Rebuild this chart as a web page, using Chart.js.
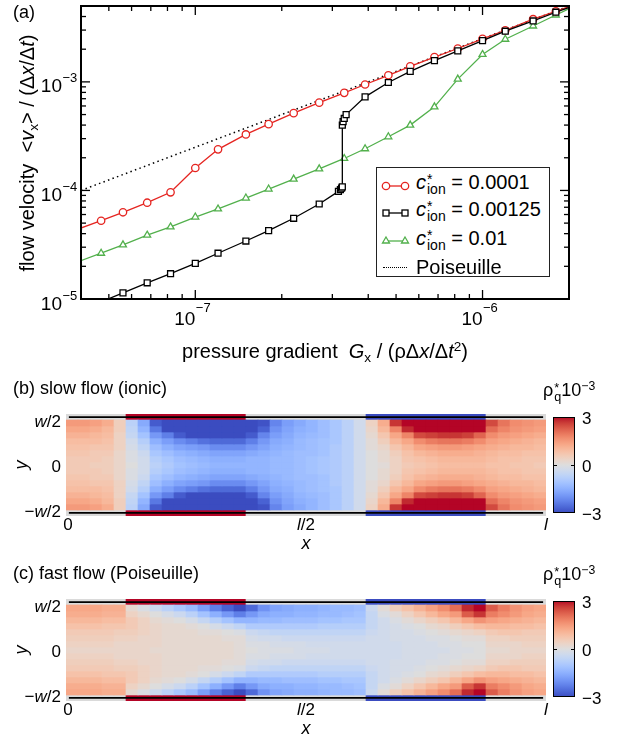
<!DOCTYPE html>
<html lang="en">
<head>
<meta charset="utf-8">
<title>Electro-osmotic channel flow</title>
<script src="https://cdn.jsdelivr.net/npm/chart.js@4.4.1/dist/chart.umd.min.js"></script>
<style>
  html, body { margin: 0; padding: 0; background: #fff; }
  #page { position: relative; width: 639px; height: 739px; overflow: hidden;
          font-family: "Liberation Sans", Arial, Helvetica, sans-serif; color: #000; }
  #page canvas { position: absolute; }
  .lbl { position: absolute; white-space: nowrap; line-height: 1; }
  .sup { font-size: 0.68em; position: relative; top: -0.5em; }
  .sub { font-size: 0.68em; position: relative; top: 0.3em; }
  .stk { display: inline-block; vertical-align: -0.38em; line-height: 0.72; font-size: 0.7em; margin-left: 1px; }
  .stk span { display: block; }
  #legend { position: absolute; left: 376px; top: 167px; width: 174px; height: 110px;
            border: 1.5px solid #222; background: #fff; box-sizing: border-box; }
</style>
</head>
<body>
<div id="page">
  <canvas id="flowChart" width="639" height="310" style="left:0;top:0"></canvas>
  <canvas id="slowChart" width="560" height="130" style="left:0;top:400px"></canvas>
  <canvas id="slowBar" width="24" height="98" style="left:552px;top:416px"></canvas>
  <canvas id="fastChart" width="560" height="130" style="left:0;top:585px"></canvas>
  <canvas id="fastBar" width="24" height="98" style="left:552px;top:600px"></canvas>
  <div id="legend"></div>
</div>
<script>
// ---------------- (a) mean flow velocity vs pressure gradient ----------------
const pressureGradient = [3.9e-8, 4.7e-8, 5.6e-8, 6.8e-8, 8.2e-8, 1.0e-7, 1.2e-7, 1.5e-7, 1.8e-7, 2.2e-7, 2.7e-7,
                          3.3e-7, 3.9e-7, 4.7e-7, 5.6e-7, 6.8e-7, 8.2e-7, 1.0e-6, 1.2e-6, 1.5e-6, 1.8e-6, 2.2e-6];
const velocityLowIon = [4.4e-5, 5.26e-5, 6.29e-5, 7.71e-5, 9.61e-5, 1.61e-4, 2.39e-4, 3.28e-4, 4.08e-4, 5.15e-4, 6.44e-4,
                        7.92e-4, 9.46e-4, 1.15e-3, 1.39e-3, 1.69e-3, 2.03e-3, 2.49e-3, 2.99e-3, 3.78e-3, 4.47e-3, 5.4e-3];
const velocityHighIon = [2.2e-5, 2.64e-5, 3.15e-5, 3.87e-5, 4.61e-5, 5.69e-5, 6.75e-5, 8.51e-5, 1.03e-4, 1.27e-4, 1.58e-4,
                         1.97e-4, 2.42e-4, 3.12e-4, 4.0e-4, 5.89e-4, 1.06e-3, 1.79e-3, 2.47e-3, 3.27e-3, 4.13e-3, 5.3e-3];
// the intermediate concentration was sampled densely around the jump
const pressureGradientMid = [4.7e-8, 5.6e-8, 6.8e-8, 8.2e-8, 1.0e-7, 1.2e-7, 1.5e-7, 1.8e-7, 2.2e-7, 2.7e-7,
                             3.15e-7, 3.2e-7, 3.23e-7, 3.25e-7, 3.25e-7, 3.27e-7, 3.3e-7, 3.35e-7,
                             3.9e-7, 4.7e-7, 5.6e-7, 6.8e-7, 8.2e-7, 1.0e-6, 1.2e-6, 1.5e-6, 1.8e-6, 2.2e-6];
const velocityMidIon = [9.4e-6, 1.14e-5, 1.41e-5, 1.71e-5, 2.13e-5, 2.64e-5, 3.42e-5, 4.26e-5, 5.54e-5, 7.5e-5,
                        9.8e-5, 1.02e-4, 1.05e-4, 1.08e-4, 4.0e-4, 4.3e-4, 4.6e-4, 5.0e-4,
                        7.28e-4, 9.87e-4, 1.25e-3, 1.57e-3, 1.93e-3, 2.40e-3, 2.93e-3, 3.64e-3, 4.38e-3, 5.3e-3];
const poiseuilleGradient = [4e-8, 2e-6];
const poiseuilleVelocity = [1e-4, 5e-3];

const gradientRange = [4e-8, 2e-6];
const velocityRange = [1e-5, 5e-3];
const gradientTickValues = [1e-7, 1e-6];
const gradientTickExponents = ['−7', '−6'];
const velocityTickValues = [1e-5, 1e-4, 1e-3];
const velocityTickExponents = ['−5', '−4', '−3'];

const seriesLabels = ['0.0001', '0.00125', '0.01'];

// ---------------- (b), (c) space charge density, units of 1e-4 ----------------
// rows run from the wall (Row1) to the channel centre line (Row8); 40 columns along x
const slowRow1 = [15,15,14,12,5,-7,-16,-28,-32,-34,-35,-35,-35,-35,-35,-33,-29,-22,-18,-16,-14,-12,-10,-7,-3,4,12,27,33,34,35,35,35,35,33,25,20,17,16,15];
const slowRow2 = [13,13,12,10,5,-6,-14,-24,-30,-32,-33,-33,-34,-34,-34,-31,-27,-20,-17,-15,-14,-12,-10,-7,-3,3,10,18,28,31,33,34,34,33,30,21,18,16,15,14];
const slowRow3 = [11,11,10,9,4,-5,-11,-19,-23,-28,-31,-31,-32,-32,-32,-28,-22,-18,-16,-14,-13,-12,-10,-7,-3,2,7,13,18,25,26,27,27,26,22,17,15,14,13,12];
const slowRow4 = [9,9,9,8,4,-3,-8,-15,-18,-21,-23,-25,-26,-26,-26,-23,-19,-16,-15,-13,-12,-11,-10,-7,-3,1,5,10,13,17,19,20,20,19,17,14,13,12,11,10];
const slowRow5 = [8,8,7,7,4,-2,-6,-12,-15,-17,-18,-19,-21,-21,-21,-19,-17,-15,-14,-13,-12,-11,-9,-7,-3,1,3,7,10,13,14,15,15,14,13,12,11,10,10,9];
const slowRow6 = [7,7,6,6,3,-1,-4,-10,-12,-14,-15,-16,-17,-17,-17,-16,-15,-14,-13,-12,-12,-11,-9,-7,-3,0,2,5,8,10,11,12,12,12,11,10,9,9,8,8];
const slowRow7 = [6,6,6,5,3,-1,-3,-8,-10,-12,-13,-14,-15,-15,-15,-14,-14,-13,-13,-12,-11,-10,-9,-7,-3,0,2,4,7,8,9,10,10,10,10,9,8,8,7,7];
const slowRow8 = [6,6,5,5,3,0,-3,-7,-9,-11,-12,-13,-14,-14,-14,-14,-14,-13,-13,-12,-11,-10,-9,-7,-3,0,1,4,6,7,8,9,9,9,9,8,8,7,7,6];

const fastRow1 = [13,13,13,12,12,2,-1,-4,-7,-10,-13,-18,-23,-27,-30,-26,-20,-17,-16,-15,-15,-14,-13,-13,-12,-4,1,5,8,11,14,17,21,28,31,23,19,16,14,13];
const fastRow2 = [12,12,12,11,11,4,2,0,-2,-4,-7,-11,-15,-19,-23,-19,-16,-15,-15,-14,-14,-13,-13,-12,-11,-5,-1,1,4,7,10,13,15,23,27,19,17,15,13,12];
const fastRow3 = [10,10,10,9,9,6,4,2,1,0,-2,-5,-8,-11,-14,-14,-13,-13,-12,-12,-12,-11,-11,-10,-10,-5,-3,-1,1,3,5,7,10,13,16,14,13,12,11,10];
const fastRow4 = [8,8,8,7,7,6,4,3,2,2,1,0,-2,-4,-6,-9,-9,-9,-9,-9,-9,-8,-8,-8,-8,-5,-3,-2,-1,0,2,3,5,7,9,10,10,9,9,8];
const fastRow5 = [6,6,6,6,5,5,4,3,2,2,2,1,1,0,-1,-4,-5,-6,-6,-6,-6,-6,-6,-6,-6,-4,-3,-2,-2,-1,0,1,2,3,4,6,7,7,6,6];
const fastRow6 = [5,5,5,5,4,4,3,3,2,2,2,2,2,1,1,-2,-3,-3,-4,-4,-4,-4,-4,-4,-4,-3,-3,-2,-2,-2,-1,-1,0,1,1,4,4,5,5,5];
const fastRow7 = [4,4,4,4,3,3,3,3,2,2,2,2,2,2,1,-1,-1,-2,-2,-2,-3,-3,-3,-3,-3,-3,-3,-3,-2,-2,-2,-1,-1,0,0,3,3,3,4,4];
const fastRow8 = [3,3,3,3,3,3,3,2,2,2,2,2,2,2,1,0,-1,-1,-1,-2,-2,-2,-3,-3,-3,-3,-3,-3,-2,-2,-2,-2,-1,-1,0,2,2,3,3,3];

// the channel is mirror-symmetric about y = 0: top wall -> centre -> bottom wall
const slowFlowCharge = [slowRow1, slowRow2, slowRow3, slowRow4, slowRow5, slowRow6, slowRow7, slowRow8,
                        slowRow7, slowRow6, slowRow5, slowRow4, slowRow3, slowRow2, slowRow1];
const fastFlowCharge = [fastRow1, fastRow2, fastRow3, fastRow4, fastRow5, fastRow6, fastRow7, fastRow8,
                        fastRow7, fastRow6, fastRow5, fastRow4, fastRow3, fastRow2, fastRow1];

// charged wall sections, as fractions of the channel length l
const positiveWall = [0.125, 0.375];
const negativeWall = [0.625, 0.875];
const chargeLimit = 3;            // colour scale spans -3..3 x 10^-3
const colourbarTicks = [3, 0, -3];
const colourbarTickLabels = ['3', '0', '−3'];
const channelYTicks = [0.5, 0, -0.5];
const channelYTickLabels = ['<i>w</i>/2', '0', '−<i>w</i>/2'];
const channelXTicks = [0, 0.5, 1];
const channelXTickLabels = ['0', '<i>l</i>/2', '<i>l</i>'];

// ---------------- styling ----------------
const RED = '#e52420', GREEN = '#52b04c', BLACK = '#000';
const WALL_RED = '#b40426', WALL_BLUE = '#3b4cc0', WALL_GREY = '#dadada';

// diverging blue-white-red map (33 evenly spaced stops)
const coolwarmStops = [
  [59,76,192],[68,90,204],[77,104,215],[87,117,225],[98,130,234],[108,142,241],[119,154,247],[130,165,251],
  [141,176,254],[152,185,255],[163,194,255],[174,201,253],[184,208,249],[194,213,244],[204,217,238],[213,219,230],
  [221,221,221],[229,216,209],[236,211,197],[241,204,184],[245,196,172],[247,187,159],[247,177,147],[247,166,134],
  [244,154,123],[241,141,111],[236,127,99],[229,112,88],[222,96,77],[213,80,66],[203,62,56],[192,40,47],[180,4,38]];
function coolwarm(t) {
  t = Math.max(0, Math.min(1, t));
  const f = t * (coolwarmStops.length - 1);
  const i = Math.min(coolwarmStops.length - 2, Math.floor(f));
  const u = f - i, a = coolwarmStops[i], b = coolwarmStops[i + 1];
  return `rgb(${Math.round(a[0] + (b[0] - a[0]) * u)},${Math.round(a[1] + (b[1] - a[1]) * u)},${Math.round(a[2] + (b[2] - a[2]) * u)})`;
}
const chargeColour = v => coolwarm(0.5 + v / (2 * chargeLimit));

const page = document.getElementById('page');
function addText(html, x, y, anchor, style) {
  const el = document.createElement('div');
  el.className = 'lbl';
  el.innerHTML = html;
  el.style.left = x + 'px';
  el.style.top = y + 'px';
  const tx = anchor === 'r' ? '-100%' : anchor === 'l' ? '0' : '-50%';
  el.style.transform = `translate(${tx},-50%)` + (anchor === 'rot' ? ' rotate(-90deg)' : '');
  if (style) el.setAttribute('style', el.getAttribute('style') + ';' + style);
  page.appendChild(el);
  return el;
}

// ticks on log axes: decades are major, 2..9 minor
function logTicks(min, max) {
  const ticks = [];
  for (let e = Math.floor(Math.log10(min)); e <= Math.ceil(Math.log10(max)); e++) {
    for (let k = 1; k <= 9; k++) {
      const v = k * Math.pow(10, e);
      if (v >= min * 0.999 && v <= max * 1.001) ticks.push({ v, major: k === 1 });
    }
  }
  return ticks;
}

// frame with inward ticks on all four sides
const frameTicks = {
  id: 'frameTicks',
  afterDatasetsDraw(chart) {
    const { ctx, chartArea: a, scales } = chart;
    const line = (x1, y1, x2, y2) => { ctx.beginPath(); ctx.moveTo(x1, y1); ctx.lineTo(x2, y2); ctx.stroke(); };
    ctx.save();
    ctx.strokeStyle = '#000';
    ctx.lineWidth = 1.3;
    for (const t of logTicks(scales.x.min, scales.x.max)) {
      const px = scales.x.getPixelForValue(t.v);
      if (px < a.left + 2 || px > a.right - 2) continue;
      const L = t.major ? 9 : 5;
      line(px, a.bottom, px, a.bottom - L);
      line(px, a.top, px, a.top + L);
    }
    for (const t of logTicks(scales.y.min, scales.y.max)) {
      const py = scales.y.getPixelForValue(t.v);
      if (py < a.top + 2 || py > a.bottom - 2) continue;
      const L = t.major ? 9 : 5;
      line(a.left, py, a.left + L, py);
      line(a.right, py, a.right - L, py);
    }
    ctx.lineWidth = 2;
    ctx.strokeRect(a.left, a.top, a.right - a.left, a.bottom - a.top);
    ctx.restore();
  }
};

const toPoints = (xs, ys) => xs.map((x, i) => ({ x, y: ys[i] }));
const seriesStyle = (colour, shape, radius) => ({
  borderColor: colour, borderWidth: 1.3, pointStyle: shape, pointRadius: radius,
  pointBackgroundColor: '#fff', pointBorderColor: colour, pointBorderWidth: 1.3, tension: 0
});

const flowChart = new Chart(document.getElementById('flowChart'), {
  type: 'line',
  data: {
    datasets: [
      { label: 'Poiseuille', data: toPoints(poiseuilleGradient, poiseuilleVelocity),
        borderColor: BLACK, borderWidth: 1.5, borderDash: [1.5, 3.3], pointRadius: 0, order: 4 },
      Object.assign({ label: seriesLabels[2], data: toPoints(pressureGradient, velocityHighIon), order: 3 },
                    seriesStyle(GREEN, 'triangle', 4)),
      Object.assign({ label: seriesLabels[0], data: toPoints(pressureGradient, velocityLowIon), order: 2 },
                    seriesStyle(RED, 'circle', 3.7)),
      Object.assign({ label: seriesLabels[1], data: toPoints(pressureGradientMid, velocityMidIon), order: 1 },
                    seriesStyle(BLACK, 'rect', 4.2))
    ]
  },
  options: {
    responsive: false, animation: false, devicePixelRatio: 1,
    layout: { padding: { left: 81, top: 6, right: 70, bottom: 11 } },
    plugins: { legend: { display: false }, tooltip: { enabled: false } },
    scales: {
      x: { type: 'logarithmic', min: gradientRange[0], max: gradientRange[1], display: false },
      y: { type: 'logarithmic', min: velocityRange[0], max: velocityRange[1], display: false }
    }
  },
  plugins: [frameTicks]
});

// tick labels and titles of (a)
(function () {
  const xs = flowChart.scales.x, ys = flowChart.scales.y;
  gradientTickValues.forEach((v, i) => {
    const px = xs.getPixelForValue(v);
    addText('10', px, 318, 'r', 'font-size:19px');
    addText(gradientTickExponents[i], px + 0.5, 307, 'l', 'font-size:13px');
  });
  velocityTickValues.forEach((v, i) => {
    const py = ys.getPixelForValue(v);
    addText('10', 62, py + 3.5, 'r', 'font-size:19px');
    addText(velocityTickExponents[i], 62.5, py - 4.5, 'l', 'font-size:13px');
  });
  addText('(a)', 13, 12, 'l', 'font-size:18px');
  addText('pressure gradient&nbsp;&nbsp;<i>G</i><span class="sub">x</span> / (ρΔ<i>x</i>/Δ<i>t</i><span class="sup">2</span>)',
          (xs.left + xs.right) / 2, 351, 'c', 'font-size:20px');
  addText('flow velocity&nbsp;&nbsp;&lt;<i>v</i><span class="sub">x</span>&gt; / (Δ<i>x</i>/Δ<i>t</i>)',
          27, (ys.top + ys.bottom) / 2, 'rot', 'font-size:20px');
})();

// legend of (a)
(function () {
  const legend = document.getElementById('legend');
  const sample = (colour, shape) => {
    const mark = (cx) => shape === 'circle'
      ? `<circle cx="${cx}" cy="7" r="3.7" fill="#fff" stroke="${colour}" stroke-width="1.3"/>`
      : shape === 'rect'
      ? `<rect x="${cx - 3}" y="4" width="6" height="6" fill="#fff" stroke="${colour}" stroke-width="1.3"/>`
      : `<polygon points="${cx},3 ${cx + 3.5},9 ${cx - 3.5},9" fill="#fff" stroke="${colour}" stroke-width="1.3"/>`;
    return `<svg width="34" height="14" style="display:block"><line x1="7" y1="7" x2="26" y2="7" stroke="${colour}" stroke-width="1.3"/>${mark(7)}${mark(26)}</svg>`;
  };
  const rows = [
    { colour: RED, shape: 'circle', text: seriesLabels[0], y: 14.5, sy: 17.5 },
    { colour: BLACK, shape: 'rect', text: seriesLabels[1], y: 42, sy: 45 },
    { colour: GREEN, shape: 'triangle', text: seriesLabels[2], y: 70.5, sy: 73 }
  ];
  let html = '';
  rows.forEach(r => {
    html += `<div style="position:absolute;left:2px;top:${r.sy - 7}px">${sample(r.colour, r.shape)}</div>`;
    html += `<div class="lbl" style="left:39px;top:${r.y}px;transform:translateY(-50%);font-size:20px">` +
            `<i>c</i><span class="stk"><span>*</span><span>ion</span></span> = ${r.text}</div>`;
  });
  html += `<div style="position:absolute;left:6px;top:98.5px;width:24px;border-top:1.5px dotted #000"></div>`;
  html += `<div class="lbl" style="left:39px;top:99px;transform:translateY(-50%);font-size:20px">Poiseuille</div>`;
  legend.innerHTML = html;
})();

// ---------------- (b), (c) charge maps ----------------
const WALL_OUTER = 0.5667, WALL_LINE = 0.533;
function wallColour(xc) {
  if (xc > positiveWall[0] && xc < positiveWall[1]) return WALL_RED;
  if (xc > negativeWall[0] && xc < negativeWall[1]) return WALL_BLUE;
  return WALL_GREY;
}
const cellStyle = { grouped: false, barPercentage: 1, categoryPercentage: 1, borderWidth: 0, order: 1 };

function channelChart(canvasId, rows) {
  const nRows = rows.length, nCols = rows[0].length;
  const columns = rows[0].map((_, c) => c);
  const datasets = rows.map((row, r) => Object.assign({
    type: 'bar',
    data: row.map(() => [0.5 - (r + 1) / nRows, 0.5 - r / nRows]),
    backgroundColor: row.map(v => chargeColour(v / 10))
  }, cellStyle));
  const wallColours = columns.map(c => wallColour((c + 0.5) / nCols));
  datasets.push(Object.assign({ type: 'bar', data: columns.map(() => [0.5, WALL_OUTER]), backgroundColor: wallColours }, cellStyle));
  datasets.push(Object.assign({ type: 'bar', data: columns.map(() => [-WALL_OUTER, -0.5]), backgroundColor: wallColours }, cellStyle));
  [WALL_LINE, -WALL_LINE].forEach(y => datasets.push({
    type: 'line', xAxisID: 'xl', data: [{ x: 0.006, y }, { x: 0.994, y }],
    borderColor: '#000', borderWidth: 1.7, pointRadius: 0, order: 0
  }));
  return new Chart(document.getElementById(canvasId), {
    type: 'bar',
    data: { labels: columns, datasets },
    options: {
      responsive: false, animation: false, devicePixelRatio: 1,
      layout: { padding: { left: 66, right: 14, top: 14, bottom: 14 } },
      plugins: { legend: { display: false }, tooltip: { enabled: false } },
      scales: {
        x: { type: 'category', display: false },
        xl: { type: 'linear', axis: 'x', min: 0, max: 1, offset: false, display: false },
        y: { type: 'linear', min: -WALL_OUTER, max: WALL_OUTER, display: false }
      }
    }
  });
}

const colourbarFrame = {
  id: 'colourbarFrame',
  afterDatasetsDraw(chart) {
    const { ctx, chartArea: a, scales } = chart;
    ctx.save();
    ctx.strokeStyle = '#000';
    ctx.lineWidth = 1;
    ctx.strokeRect(a.left + 0.5, a.top + 0.5, a.right - a.left - 1, a.bottom - a.top - 1);
    const py = Math.round(scales.y.getPixelForValue(0)) + 0.5;
    ctx.beginPath();
    ctx.moveTo(a.left, py); ctx.lineTo(a.left + 4, py);
    ctx.moveTo(a.right, py); ctx.lineTo(a.right - 4, py);
    ctx.stroke();
    ctx.restore();
  }
};

function colourbarChart(canvasId) {
  return new Chart(document.getElementById(canvasId), {
    type: 'bar',
    data: {
      labels: [''],
      datasets: [{
        data: [[-chargeLimit, chargeLimit]], barPercentage: 1, categoryPercentage: 1, borderWidth: 0,
        backgroundColor(context) {
          const chart = context.chart;
          if (!chart.chartArea) return chargeColour(0);
          const y = chart.scales.y;
          const g = chart.ctx.createLinearGradient(0, y.getPixelForValue(-chargeLimit), 0, y.getPixelForValue(chargeLimit));
          coolwarmStops.forEach((_, i) => g.addColorStop(i / (coolwarmStops.length - 1), coolwarm(i / (coolwarmStops.length - 1))));
          return g;
        }
      }]
    },
    options: {
      responsive: false, animation: false, devicePixelRatio: 1,
      layout: { padding: 1 },
      plugins: { legend: { display: false }, tooltip: { enabled: false } },
      scales: { x: { display: false }, y: { min: -chargeLimit, max: chargeLimit, display: false } }
    },
    plugins: [colourbarFrame]
  });
}

function channelLabels(chart, bar, chartTop, barTop, title, titleY, xLabelY, xTitleY, rhoY) {
  const ys = chart.scales.y, xl = chart.scales.xl;
  channelYTicks.forEach((v, i) => addText(channelYTickLabels[i], 61, chartTop + ys.getPixelForValue(v) + 1, 'r', 'font-size:17px'));
  channelXTicks.forEach((v, i) => addText(channelXTickLabels[i], xl.getPixelForValue(v) + (i === 0 ? 2 : 0), xLabelY, 'c', 'font-size:17px'));
  addText('<i>x</i>', xl.getPixelForValue(0.5), xTitleY, 'c', 'font-size:18px');
  addText('<i>y</i>', 21, chartTop + ys.getPixelForValue(0), 'rot', 'font-size:18px');
  addText(title, 13, titleY, 'l', 'font-size:18px');
  colourbarTicks.forEach((v, i) => addText(colourbarTickLabels[i], 582, barTop + bar.scales.y.getPixelForValue(v) + 1, 'l', 'font-size:17px'));
  addText('ρ<span class="stk"><span>*</span><span>q</span></span>10<span class="sup">−3</span>', 543, rhoY, 'l', 'font-size:18px');
}

const slowChart = channelChart('slowChart', slowFlowCharge);
const slowBar = colourbarChart('slowBar');
channelLabels(slowChart, slowBar, 400, 416, '(b) slow flow (ionic)', 388, 524, 543, 391);

const fastChart = channelChart('fastChart', fastFlowCharge);
const fastBar = colourbarChart('fastBar');
channelLabels(fastChart, fastBar, 585, 600, '(c) fast flow (Poiseuille)', 573, 709, 728, 575);
</script>
</body>
</html>
